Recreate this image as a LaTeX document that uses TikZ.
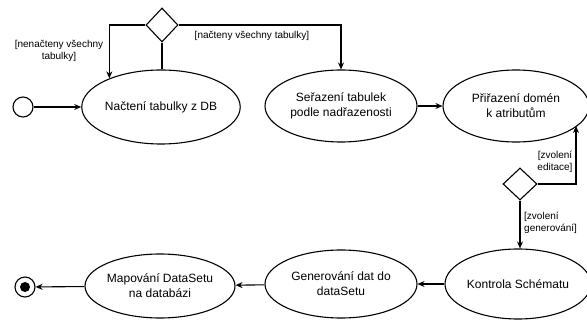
\documentclass[tikz,border=0pt]{standalone}
\usepackage{fontspec}
\setmainfont{Liberation Sans}
\usetikzlibrary{shapes.geometric,arrows.meta,calc}
\begin{document}
\begin{tikzpicture}[x=1pt,y=-1pt,
  activity/.style={ellipse,draw,line width=1.1pt,inner sep=0pt,align=center,
    font=\fontsize{12}{15}\selectfont},
  decision/.style={diamond,draw,line width=1.1pt,inner sep=0pt,aspect=1},
  guard/.style={align=center,inner sep=0pt,font=\fontsize{10}{12}\selectfont},
  flow/.style={line width=1.1pt,-{Stealth[length=7pt,width=6pt]}},
  plain/.style={line width=1.1pt}]
  \useasboundingbox (0,0) rectangle (587,320);

  % start and end states
  \node[circle,draw,line width=1.1pt,minimum size=20pt,inner sep=0pt] (start) at (23,107) {};
  \node[circle,draw,line width=1.1pt,minimum size=20pt,inner sep=0pt] (final) at (25,287) {};
  \node[circle,fill,minimum size=10pt,inner sep=0pt] (finaldot) at (final) {};

  % activities, upper row
  \node[activity,minimum width=149pt,minimum height=74pt] (load) at (161,107) {Načtení tabulky z DB};
  \node[activity,minimum width=152pt,minimum height=72pt] (sort) at (341,106) {Seřazení tabulek\\podle nadřazenosti};
  \node[activity,minimum width=146pt,minimum height=72pt] (dom) at (516,106) {Přiřazení domén\\k atributům};

  % activities, lower row
  \node[activity,minimum width=146pt,minimum height=70pt] (check) at (518,284) {Kontrola Schématu};
  \node[activity,minimum width=152pt,minimum height=68pt] (gen) at (341,284) {Generování dat do\\dataSetu};
  \node[activity,minimum width=147pt,minimum height=64pt] (map) at (160,286) {Mapování DataSetu\\na databázi};

  % decisions
  \node[decision,minimum width=32pt,minimum height=34pt] (d1) at (162,25) {};
  \node[decision,minimum width=34pt,minimum height=32pt] (d2) at (520,184) {};
  \coordinate (up) at (576,184);

  % guards
  \node[guard] (g1) at (59,51) {[nenačteny všechny\\tabulky]};
  \node[guard] (g2) at (252,36) {[načteny všechny tabulky]};
  \node[guard] (g3) at (555,162) {[zvolení\\editace]};
  \node[guard,align=left,anchor=west] (g4) at (524,223) {[zvolení\\generování]};

  % flows
  \draw[flow] (start) -- (load);
  \draw[plain] (load.north -| d1.south) -- (d1.south);
  \draw[flow] (d1.west) -| (load.151);
  \draw[flow] (d1.east) -| (sort.north);
  \draw[flow] (sort) -- (dom);
  \draw[flow] (d2.east) -- (up) -- (up |- dom.-18);
  \draw[flow] (d2.south) -- (check.north -| d2.south);
  \draw[flow] (check) -- (gen);
  \draw[flow] (gen) -- (map);
  \draw[flow] (map) -- (final);
\end{tikzpicture}
\end{document}
